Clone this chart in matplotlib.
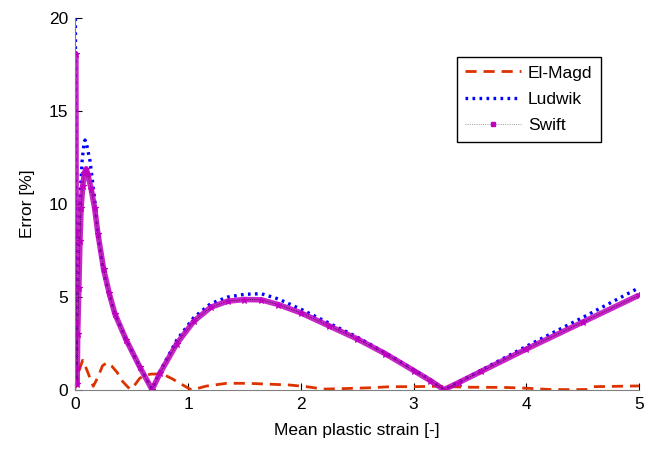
import numpy as np
import matplotlib.pyplot as plt
from matplotlib.lines import Line2D

plt.rcParams['font.family'] = ['Liberation Sans', 'DejaVu Sans']

# ---- data ----
elmagd_x = [0, 0.03, 0.064, 0.1, 0.158, 0.2, 0.24, 0.277, 0.32, 0.37, 0.42, 0.484, 0.53,
            0.57, 0.62, 0.676, 0.73, 0.794, 0.86, 0.927, 1.03, 1.16, 1.34, 1.52, 1.7, 1.9,
            2.05, 2.2, 2.4, 2.61, 2.8, 3.0, 3.2, 3.5, 3.8, 4.0, 4.2, 4.4, 4.54, 4.6, 4.8, 5.0]
elmagd_y = [0.1, 1.0, 1.6, 1.1, 0.2, 0.7, 1.3, 1.47, 1.3, 0.95, 0.45, 0.04, 0.3,
            0.63, 0.8, 0.86, 0.86, 0.8, 0.6, 0.36, 0.0, 0.21, 0.36, 0.36, 0.32, 0.27,
            0.18, 0.05, 0.08, 0.12, 0.18, 0.18, 0.2, 0.15, 0.14, 0.1, 0.03, 0.02, 0.03,
            0.18, 0.2, 0.22]

ludwik_x = [0, 0.003, 0.01, 0.02, 0.03, 0.045, 0.06, 0.075, 0.085, 0.1, 0.13, 0.17, 0.2,
            0.25, 0.3, 0.35, 0.45, 0.57, 0.68, 0.75, 0.9, 1.05, 1.2, 1.35, 1.5, 1.65, 1.8,
            2.0, 2.25, 2.5, 2.75, 3.0, 3.15, 3.27, 3.5, 4.0, 4.5, 5.0]
ludwik_y = [20, 0.5, 3.5, 6.5, 8.5, 10.8, 12.4, 13.2, 13.45, 13.2, 12.3, 10.3, 8.3,
            6.3, 5.1, 4.1, 2.7, 1.25, 0.05, 1.0, 2.7, 3.9, 4.65, 5.0, 5.15, 5.18, 4.9,
            4.35, 3.6, 2.85, 2.0, 1.1, 0.55, 0.02, 0.75, 2.35, 3.9, 5.5]

swift_x = [0, 0.001, 0.004, 0.007, 0.01, 0.015, 0.02, 0.03, 0.04, 0.05, 0.065, 0.08,
           0.095, 0.11, 0.14, 0.17, 0.2, 0.25, 0.3, 0.35, 0.45, 0.57, 0.68, 0.75, 0.9,
           1.05, 1.2, 1.35, 1.5, 1.65, 1.8, 2.0, 2.25, 2.5, 2.75, 3.0, 3.15, 3.27, 3.4,
           3.6, 4.0, 4.5, 5.0]
swift_y = [0.5, 18.1, 8.5, 3.6, 1.2, 0.3, 3.0, 5.5, 8.0, 9.8, 11.0, 11.7,
           11.9, 11.6, 10.8, 9.8, 8.4, 6.5, 5.2, 4.1, 2.7, 1.25, 0.02, 0.9, 2.5,
           3.7, 4.45, 4.78, 4.87, 4.85, 4.6, 4.15, 3.45, 2.75, 1.95, 1.05, 0.5, 0.02, 0.4,
           1.0, 2.2, 3.65, 5.1]

red = '#dd3300'
blue = '#0000ff'
magenta = '#c000c0'

fig = plt.figure(figsize=(6.56, 4.5), dpi=100)
ax = fig.add_axes([0.115, 0.1333, 0.859, 0.826])

ax.plot(elmagd_x, elmagd_y, color=red, lw=2, dashes=(4, 2.5))
ax.plot(ludwik_x, ludwik_y, color=blue, lw=2.4, linestyle=(0, (0.8, 1.3)))
# dense markers of the Swift curve appear as a thick magenta band
ax.plot(swift_x, swift_y, color=magenta, lw=4, alpha=0.85, solid_capstyle='butt')
ax.plot(swift_x, swift_y, color='k', lw=0.5, linestyle=':',
        marker='*', ms=5, mfc=magenta, mec=magenta, mew=0.8)

ax.set_xlim(0, 5)
ax.set_ylim(0, 20)
ax.set_xticks([0, 1, 2, 3, 4, 5])
ax.set_yticks([0, 5, 10, 15, 20])
ax.tick_params(direction='in', length=5, width=0.8, labelsize=12.5, pad=5)
for s in ['top', 'right']:
    ax.spines[s].set_visible(False)
ax.spines['bottom'].set_color('#808080')
ax.spines['left'].set_color('#808080')
ax.set_xlabel('Mean plastic strain [-]', fontsize=12.5, labelpad=8)
ax.set_ylabel('Error [%]', fontsize=12.5, labelpad=10)

handles = [
    Line2D([], [], color=red, lw=2, dashes=(4, 2.5)),
    Line2D([], [], color=blue, lw=2.4, linestyle=(0, (0.8, 1.3))),
    Line2D([], [], color='#777777', lw=0.6, linestyle=':', marker='s', ms=3.5,
           mfc=magenta, mec=magenta, markevery=[1]),
]
leg = ax.legend(handles, ['El-Magd', 'Ludwik', 'Swift'], loc='upper right',
                bbox_to_anchor=(0.9326, 0.8967), fontsize=12.5, fancybox=False,
                framealpha=1, edgecolor='k', handlelength=3.2, handletextpad=0.4,
                borderpad=0.5, labelspacing=0.65, borderaxespad=0)
leg.get_frame().set_linewidth(1.0)

fig.savefig('out.png', dpi=100)
